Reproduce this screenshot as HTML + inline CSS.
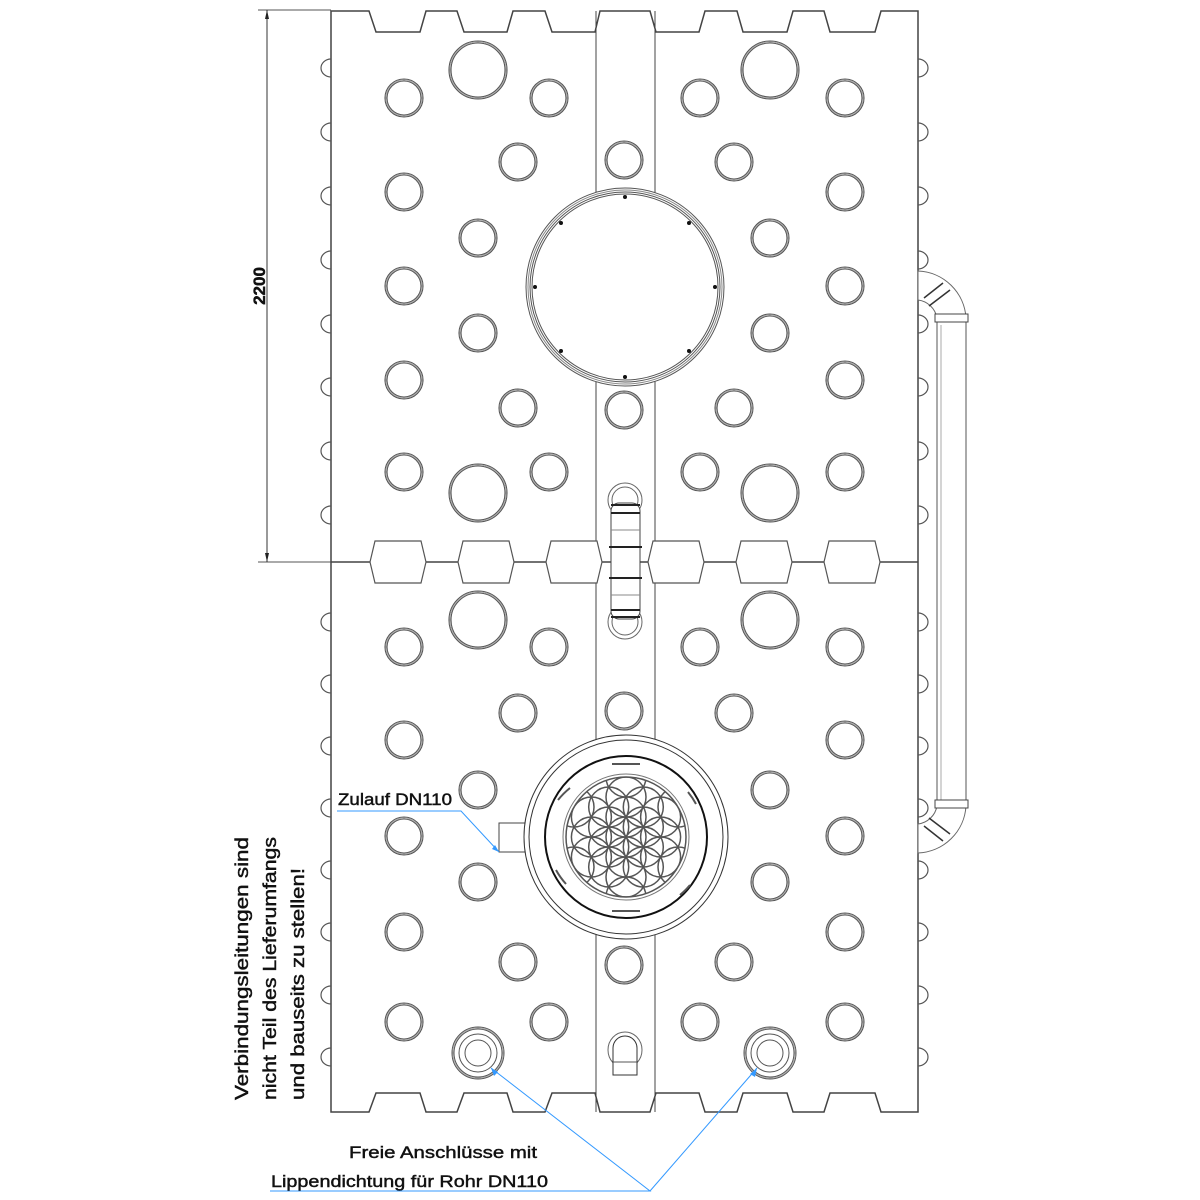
<!DOCTYPE html>
<html><head><meta charset="utf-8"><style>
html,body{margin:0;padding:0;background:#fff;}
svg{display:block;}
text{font-family:"Liberation Sans",sans-serif;fill:#111;stroke:#111;stroke-width:0.45;}
</style></head><body>
<svg width="1200" height="1200" viewBox="0 0 1200 1200" xmlns="http://www.w3.org/2000/svg">
<defs>
<g id="h"><circle r="19" fill="none" stroke="#555" stroke-width="1.1"/><circle r="17" fill="none" stroke="#555" stroke-width="1.1"/><circle r="18" fill="none" stroke="#aaa" stroke-width="1"/></g>
<g id="H"><circle r="29" fill="none" stroke="#555" stroke-width="1.1"/><circle r="27" fill="none" stroke="#555" stroke-width="1.1"/><circle r="28" fill="none" stroke="#aaa" stroke-width="1"/></g>
<path id="bl" d="M0,-9 A10,9 0 0 0 0,9" fill="none" stroke="#555" stroke-width="1.2"/>
<path id="br" d="M0,-9 A10,9 0 0 1 0,9" fill="none" stroke="#555" stroke-width="1.2"/>
<path id="hex" d="M5,-21 H51 L56,0 L51,21 H5 L0,0 Z" fill="#fff" stroke="#555" stroke-width="1.2"/>
<g id="conn"><circle r="26" fill="none" stroke="#555"/><circle r="24" fill="none" stroke="#555"/><circle r="25" fill="none" stroke="#aaa"/><circle r="19" fill="none" stroke="#555"/><circle r="13" fill="none" stroke="#555"/></g>
<clipPath id="fc"><circle cx="626" cy="837" r="60"/></clipPath>
</defs>

<!-- dimension -->
<line x1="258" y1="10" x2="331" y2="10" stroke="#555"/>
<line x1="258" y1="562" x2="331" y2="562" stroke="#555"/>
<line x1="267" y1="10" x2="267" y2="562" stroke="#333"/>
<path d="M267,10 l-2,9 h4z M267,562 l-2,-9 h4z" fill="#222"/>
<text transform="translate(265,286) rotate(-90)" text-anchor="middle" font-size="17" font-weight="bold">2200</text>

<!-- strip lines -->
<line x1="596" y1="11" x2="596" y2="1112" stroke="#444"/>
<line x1="655" y1="11" x2="655" y2="1112" stroke="#444"/>

<!-- body outline -->
<path d="M331,1112 V11 H369 L376,32 H420 L426,11 H457 L464,32 H507 L513,11 H545 L552,32 H595 L600,11 H650 L656,32 H699 L705,11 H737 L743,32 H787 L793,11 H824 L830,32 H875 L881,11 H918 V1112 H881 L875,1093 H830 L824,1112 H793 L787,1093 H743 L737,1112 H705 L699,1093 H656 L650,1112 H600 L595,1093 H552 L545,1112 H513 L507,1093 H464 L457,1112 H426 L420,1093 H376 L369,1112 Z" fill="none" stroke="#444" stroke-width="1.5"/>
<line x1="331" y1="562" x2="918" y2="562" stroke="#444" stroke-width="1.5"/>

<!-- bumps -->
<g>
<use href="#bl" x="331" y="68"/><use href="#bl" x="331" y="132"/><use href="#bl" x="331" y="196"/><use href="#bl" x="331" y="260"/><use href="#bl" x="331" y="324"/><use href="#bl" x="331" y="387"/><use href="#bl" x="331" y="451"/><use href="#bl" x="331" y="515"/>
<use href="#bl" x="331" y="622"/><use href="#bl" x="331" y="684"/><use href="#bl" x="331" y="746"/><use href="#bl" x="331" y="808"/><use href="#bl" x="331" y="870"/><use href="#bl" x="331" y="932"/><use href="#bl" x="331" y="995"/><use href="#bl" x="331" y="1057"/>
<use href="#br" x="918" y="68"/><use href="#br" x="918" y="132"/><use href="#br" x="918" y="196"/><use href="#br" x="918" y="260"/><use href="#br" x="918" y="324"/><use href="#br" x="918" y="387"/><use href="#br" x="918" y="451"/><use href="#br" x="918" y="515"/>
<use href="#br" x="918" y="622"/><use href="#br" x="918" y="684"/><use href="#br" x="918" y="746"/><use href="#br" x="918" y="808"/><use href="#br" x="918" y="870"/><use href="#br" x="918" y="932"/><use href="#br" x="918" y="995"/><use href="#br" x="918" y="1057"/>
</g>

<!-- hex connectors -->
<use href="#hex" x="370" y="562"/><use href="#hex" x="458" y="562"/><use href="#hex" x="546" y="562"/>
<use href="#hex" x="648" y="562"/><use href="#hex" x="736" y="562"/><use href="#hex" x="824" y="562"/>

<!-- upper holes -->
<use href="#H" x="478" y="70"/><use href="#H" x="770" y="70"/><use href="#H" x="478" y="493"/><use href="#H" x="770" y="493"/>
<use href="#h" x="404" y="98"/><use href="#h" x="549" y="98"/><use href="#h" x="700" y="98"/><use href="#h" x="845" y="98"/>
<use href="#h" x="518" y="162"/><use href="#h" x="624" y="160"/><use href="#h" x="734" y="162"/>
<use href="#h" x="404" y="192"/><use href="#h" x="845" y="192"/>
<use href="#h" x="478" y="238"/><use href="#h" x="770" y="238"/>
<use href="#h" x="404" y="286"/><use href="#h" x="845" y="286"/>
<use href="#h" x="478" y="333"/><use href="#h" x="770" y="333"/>
<use href="#h" x="404" y="380"/><use href="#h" x="845" y="380"/>
<use href="#h" x="518" y="408"/><use href="#h" x="624" y="410"/><use href="#h" x="734" y="408"/>
<use href="#h" x="404" y="472"/><use href="#h" x="549" y="472"/><use href="#h" x="700" y="472"/><use href="#h" x="845" y="472"/>

<!-- upper big opening -->
<circle cx="625" cy="287" r="99" fill="#fff" stroke="#555"/>
<circle cx="625" cy="287" r="97" fill="none" stroke="#888"/>
<circle cx="625" cy="287" r="95" fill="none" stroke="#555"/>
<circle cx="625" cy="287" r="93" fill="none" stroke="#555"/>
<g fill="#111">
<circle cx="625" cy="197" r="2"/><circle cx="689" cy="223" r="2"/><circle cx="715" cy="287" r="2"/><circle cx="689" cy="351" r="2"/>
<circle cx="625" cy="377" r="2"/><circle cx="561" cy="351" r="2"/><circle cx="535" cy="287" r="2"/><circle cx="561" cy="223" r="2"/>
</g>

<!-- lower holes -->
<use href="#H" x="478" y="620"/><use href="#H" x="770" y="620"/>
<use href="#h" x="404" y="647"/><use href="#h" x="549" y="647"/><use href="#h" x="700" y="647"/><use href="#h" x="845" y="647"/>
<use href="#h" x="518" y="713"/><use href="#h" x="624" y="711"/><use href="#h" x="734" y="713"/>
<use href="#h" x="404" y="740"/><use href="#h" x="845" y="740"/>
<use href="#h" x="478" y="790"/><use href="#h" x="770" y="790"/>
<use href="#h" x="404" y="836"/><use href="#h" x="845" y="836"/>
<use href="#h" x="478" y="882"/><use href="#h" x="770" y="882"/>
<use href="#h" x="404" y="932"/><use href="#h" x="845" y="932"/>
<use href="#h" x="518" y="962"/><use href="#h" x="624" y="965"/><use href="#h" x="734" y="962"/>
<use href="#h" x="404" y="1022"/><use href="#h" x="549" y="1022"/><use href="#h" x="700" y="1022"/><use href="#h" x="845" y="1022"/>
<use href="#conn" x="478" y="1053"/><use href="#conn" x="770" y="1053"/>

<!-- U outlet in strip -->
<ellipse cx="625" cy="1050" rx="17" ry="18" fill="none" stroke="#666"/>
<path d="M613,1075 V1048 A12,12 0 0 1 637,1048 V1075 Z" fill="#fff" stroke="#333"/>
<line x1="613" y1="1062" x2="637" y2="1062" stroke="#555"/>

<!-- center pipe -->
<circle cx="625" cy="500" r="17" fill="#fff" stroke="#666"/>
<circle cx="625" cy="500" r="13" fill="none" stroke="#666"/>
<circle cx="625" cy="622" r="17" fill="#fff" stroke="#666"/>
<circle cx="625" cy="622" r="13" fill="none" stroke="#666"/>
<rect x="611" y="503" width="29" height="116" rx="8" fill="#fff" stroke="#444"/>
<g stroke="#222" stroke-width="2"><line x1="611" y1="505" x2="640" y2="505"/><line x1="611" y1="513" x2="640" y2="513"/><line x1="609" y1="547" x2="642" y2="547"/><line x1="609" y1="578" x2="642" y2="578"/><line x1="611" y1="610" x2="640" y2="610"/><line x1="611" y1="617" x2="640" y2="617"/></g>
<g stroke="#888"><line x1="611" y1="530" x2="640" y2="530"/><line x1="611" y1="595" x2="640" y2="595"/></g>

<!-- lower filter shaft -->
<rect x="499" y="823" width="31" height="29" fill="#fff" stroke="#444"/>
<circle cx="626" cy="837" r="102" fill="#fff" stroke="#333"/>
<circle cx="626" cy="837" r="97" fill="none" stroke="#333"/>
<circle cx="626" cy="837" r="81" fill="none" stroke="#111" stroke-width="2"/>
<g fill="none" stroke="#555" stroke-width="2">
<path d="M612,764 H640"/><path d="M612,911 H640"/>
<path d="M558,800 A75,75 0 0 1 570,788"/><path d="M690,885 A75,75 0 0 1 680,895"/>
<path d="M556,870 A75,75 0 0 0 566,884"/><path d="M696,804 A75,75 0 0 0 688,792"/>
</g>
<g fill="none" stroke="#555" stroke-width="1.5" clip-path="url(#fc)">
<circle cx="626" cy="837" r="20"/>
<circle cx="626" cy="817" r="20"/><circle cx="643.3" cy="827" r="20"/><circle cx="643.3" cy="847" r="20"/><circle cx="626" cy="857" r="20"/><circle cx="608.7" cy="847" r="20"/><circle cx="608.7" cy="827" r="20"/>
<circle cx="626" cy="797" r="20"/><circle cx="660.6" cy="817" r="20"/><circle cx="660.6" cy="857" r="20"/><circle cx="626" cy="877" r="20"/><circle cx="591.4" cy="857" r="20"/><circle cx="591.4" cy="817" r="20"/>
<circle cx="660.6" cy="837" r="20"/><circle cx="643.3" cy="867" r="20"/><circle cx="608.7" cy="867" r="20"/><circle cx="591.4" cy="837" r="20"/><circle cx="608.7" cy="807" r="20"/><circle cx="643.3" cy="807" r="20"/>
<circle cx="626" cy="777" r="20"/><circle cx="626" cy="897" r="20"/><circle cx="678" cy="807" r="20"/><circle cx="678" cy="867" r="20"/><circle cx="574" cy="807" r="20"/><circle cx="574" cy="867" r="20"/>
</g>
<circle cx="626" cy="837" r="60" fill="none" stroke="#555" stroke-width="1.5"/>
<circle cx="626" cy="837" r="63" fill="none" stroke="#777"/>

<!-- right external pipe -->
<path d="M918,271 A50,50 0 0 1 966,318 L937,318 A22,22 0 0 0 918,300 Z" fill="#fff" stroke="#666"/>
<path d="M918,853 A50,50 0 0 0 966,806 L937,806 A22,22 0 0 1 918,824 Z" fill="#fff" stroke="#666"/>
<g stroke="#333" stroke-width="1.5"><line x1="924" y1="298" x2="943" y2="283"/><line x1="929" y1="306" x2="950" y2="290"/><line x1="924" y1="826" x2="943" y2="841"/><line x1="929" y1="818" x2="950" y2="834"/></g>
<rect x="937" y="318" width="29" height="488" fill="#fff" stroke="#555"/>
<line x1="941" y1="325" x2="941" y2="800" stroke="#aaa"/>
<rect x="935" y="314" width="33" height="8" fill="#fff" stroke="#444"/>
<rect x="935" y="800" width="33" height="8" fill="#fff" stroke="#444"/>

<!-- labels -->
<g stroke="#3399ff" stroke-width="1" fill="none">
<polyline points="337,811 461,811 499,852"/>
<polyline points="270,1191 650,1191 491,1068"/>
<line x1="650" y1="1191" x2="757" y2="1068"/>
</g>
<path d="M499,852 l-7,-3 l3,-4z M491,1068 l3,8 l4,-4z M757,1068 l-7,6 l5,3z" fill="#3399ff"/>
<text x="338" y="805" font-size="17" textLength="114" lengthAdjust="spacingAndGlyphs">Zulauf DN110</text>
<text x="349" y="1158" font-size="17" textLength="188" lengthAdjust="spacingAndGlyphs">Freie Anschlüsse mit</text>
<text x="271" y="1187" font-size="17" textLength="277" lengthAdjust="spacingAndGlyphs">Lippendichtung für Rohr DN110</text>
<text transform="translate(248,1100) rotate(-90)" font-size="18" textLength="263" lengthAdjust="spacingAndGlyphs">Verbindungsleitungen sind</text>
<text transform="translate(276,1100) rotate(-90)" font-size="18" textLength="263" lengthAdjust="spacingAndGlyphs">nicht Teil des Lieferumfangs</text>
<text transform="translate(304,1100) rotate(-90)" font-size="18" textLength="232" lengthAdjust="spacingAndGlyphs">und bauseits zu stellen!</text>
</svg>
</body></html>
